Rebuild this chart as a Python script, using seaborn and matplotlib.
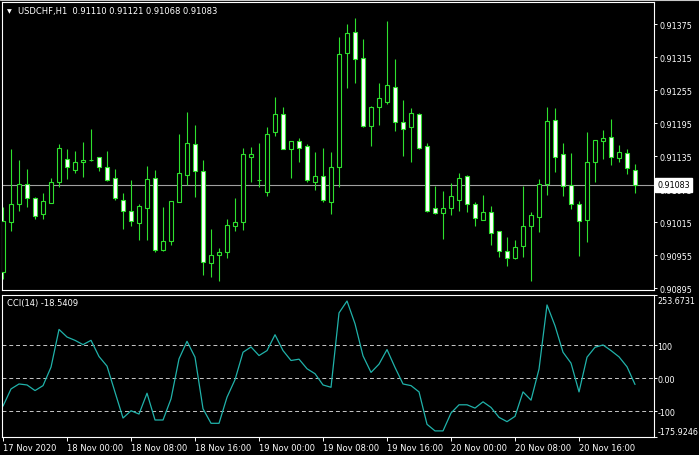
import numpy as np
import pandas as pd
import matplotlib
matplotlib.use('Agg')
import matplotlib.pyplot as plt
import matplotlib.transforms as mtransforms
import seaborn as sns

# USDCHF H1 bars, 17 Nov 2020 16:00 .. 20 Nov 2020 23:00
opens = [0.90924, 0.91016, 0.91047, 0.91085, 0.91058, 0.91029, 0.91050, 0.91088, 0.91129, 0.91110,
         0.91124, 0.91127, 0.91133, 0.91116, 0.91095, 0.91056, 0.91036, 0.91014, 0.91041, 0.91096,
         0.90965, 0.90981, 0.91052, 0.91101, 0.91156, 0.91107, 0.90941, 0.90956, 0.90961, 0.91008,
         0.91016, 0.91134, 0.91091, 0.91070, 0.91178, 0.91211, 0.91147, 0.91162, 0.91153, 0.91088,
         0.91098, 0.91052, 0.91116, 0.91323, 0.91360, 0.91313, 0.91190, 0.91225, 0.91234, 0.91260,
         0.91196, 0.91187, 0.91211, 0.91153, 0.91040, 0.91031, 0.91041, 0.91056, 0.91098, 0.91047,
         0.91019, 0.91033, 0.90998, 0.90963, 0.90949, 0.90972, 0.91008, 0.91025, 0.91085, 0.91200,
         0.91138, 0.91082, 0.91047, 0.91019, 0.91125, 0.91163, 0.91169, 0.91131, 0.91140, 0.91110]
highs = [0.91042, 0.91148, 0.91128, 0.91111, 0.91060, 0.91067, 0.91096, 0.91157, 0.91148, 0.91144,
         0.91160, 0.91184, 0.91134, 0.91144, 0.91111, 0.91067, 0.91091, 0.91047, 0.91117, 0.91110,
         0.91042, 0.91054, 0.91175, 0.91215, 0.91191, 0.91128, 0.91002, 0.90968, 0.91020, 0.91059,
         0.91150, 0.91151, 0.91159, 0.91187, 0.91242, 0.91225, 0.91163, 0.91167, 0.91156, 0.91142,
         0.91150, 0.91142, 0.91351, 0.91375, 0.91386, 0.91348, 0.91226, 0.91268, 0.91380, 0.91311,
         0.91237, 0.91222, 0.91214, 0.91158, 0.91080, 0.91071, 0.91086, 0.91104, 0.91100, 0.91051,
         0.91064, 0.91044, 0.90999, 0.90988, 0.90983, 0.91080, 0.91033, 0.91093, 0.91224, 0.91222,
         0.91159, 0.91140, 0.91053, 0.91178, 0.91165, 0.91182, 0.91202, 0.91155, 0.91148, 0.91121]
lows = [0.90911, 0.90999, 0.91036, 0.91043, 0.91021, 0.91020, 0.91049, 0.91079, 0.91093, 0.91104,
        0.91097, 0.91126, 0.91107, 0.91090, 0.91056, 0.91003, 0.91007, 0.90983, 0.90983, 0.90961,
        0.90963, 0.90974, 0.91051, 0.91082, 0.91061, 0.90919, 0.90916, 0.90907, 0.90949, 0.90999,
        0.91001, 0.91087, 0.91078, 0.91063, 0.91172, 0.91147, 0.91095, 0.91125, 0.91088, 0.91074,
        0.91052, 0.91030, 0.91079, 0.91259, 0.91268, 0.91188, 0.91154, 0.91191, 0.91230, 0.91181,
        0.91136, 0.91125, 0.91148, 0.91034, 0.91030, 0.90985, 0.91028, 0.91035, 0.91034, 0.91008,
        0.91018, 0.90974, 0.90952, 0.90935, 0.90948, 0.90951, 0.90907, 0.90997, 0.91064, 0.91106,
        0.91063, 0.91039, 0.90954, 0.90979, 0.91088, 0.91130, 0.91119, 0.91125, 0.91102, 0.91068]
closes = [0.91017, 0.91047, 0.91085, 0.91058, 0.91026, 0.91053, 0.91087, 0.91149, 0.91116, 0.91125,
          0.91128, 0.91128, 0.91116, 0.91092, 0.91058, 0.91036, 0.91017, 0.91044, 0.91093, 0.90965,
          0.90980, 0.91053, 0.91105, 0.91158, 0.91107, 0.90942, 0.90956, 0.90960, 0.91010, 0.91016,
          0.91138, 0.91138, 0.91091, 0.91175, 0.91211, 0.91148, 0.91162, 0.91150, 0.91092, 0.91098,
          0.91055, 0.91116, 0.91320, 0.91358, 0.91312, 0.91190, 0.91225, 0.91240, 0.91264, 0.91197,
          0.91184, 0.91213, 0.91150, 0.91035, 0.91031, 0.91040, 0.91062, 0.91096, 0.91047, 0.91022,
          0.91033, 0.90996, 0.90963, 0.90949, 0.90969, 0.91007, 0.91027, 0.91085, 0.91198, 0.91134,
          0.91081, 0.91047, 0.91017, 0.91125, 0.91164, 0.91167, 0.91133, 0.91142, 0.91113, 0.91083]
cci = [-84, -32, -17, -20, -37, -22, 34, 148, 125, 115,
       102, 115, 66, 37, -42, -120, -98, -108, -45, -126,
       -126, -62, 59, 112, 64, -92, -136, -136, -57, -4,
       79, 95, 69, 84, 132, 84, 54, 58, 29, 14,
       -20, -27, 198, 234, 165, 68, 18, 43, 87, 33,
       -17, -22, -41, -139, -159, -159, -105, -80, -80, -90,
       -71, -88, -118, -131, -115, -41, -66, 28, 222, 159,
       79, 46, -41, 64, 94, 101, 84, 65, 35, -18.5409]

price_ticks = [0.91375, 0.91315, 0.91255, 0.91195, 0.91135, 0.91075, 0.91015, 0.90955, 0.90895]
cci_levels = [100, 0, -100]
cci_range = [-175.9246, 253.6731]

GREEN = '#2ee02e'
CCI_COLOR = '#20b2aa'

df = pd.DataFrame({'time': pd.date_range('2020-11-17 16:00', periods=len(opens), freq='h'),
                   'open': opens, 'high': highs, 'low': lows, 'close': closes, 'cci': cci})
df['bar'] = np.arange(len(df))
bull = df['close'] >= df['open']

sns.set_style('dark', rc={'axes.facecolor': 'black', 'figure.facecolor': 'black',
                          'axes.edgecolor': 'white', 'text.color': 'white',
                          'xtick.color': 'white', 'ytick.color': 'white', 'axes.grid': False})
plt.rcParams['font.family'] = ['DejaVu Sans']

W, H = 699, 456
def rect(l, t, r, b):
    return [l / W, 1 - b / H, (r - l) / W, (b - t) / H]

fig = plt.figure(figsize=(W / 100, H / 100), dpi=100)
ax = fig.add_axes(rect(2.3, 3.3, 653.5, 291))
ax2 = fig.add_axes(rect(2.3, 295.5, 653.5, 437.5), sharex=ax)

# window frame line at the very top
fig.add_artist(plt.Line2D([0, 1], [1 - 0.6 / H, 1 - 0.6 / H], color='#c8c8c8', lw=0.8))

# candles
ax.vlines(df['bar'], df['low'], df['high'], color=GREEN, lw=0.8, zorder=2)
ax.bar(df['bar'], (df['close'] - df['open']).abs(), bottom=df[['open', 'close']].min(axis=1),
       width=0.5, color=np.where(bull, 'black', 'white'), edgecolor=GREEN, linewidth=0.8, zorder=3)
ax.axhline(df['close'].iloc[-1], color='#a0a0a0', lw=0.8, zorder=1)

ax.set_ylim(0.908915, 0.914145)
ax.set_xlim(-0.09, 81.31)
ax.set_yticks(price_ticks)
ax.set_yticklabels([f'{p:.5f}' for p in price_ticks])
ax.tick_params(axis='y', left=False, labelleft=False, right=True, labelright=True,
               length=2.5, width=0.7, labelsize=5.8, pad=1.5)
ax.tick_params(axis='x', bottom=False, labelbottom=False)

blend = mtransforms.blended_transform_factory(ax.transAxes, ax.transData)
ax.text(1.006, df['close'].iloc[-1], f"{df['close'].iloc[-1]:.5f}", transform=blend,
        ha='left', va='center', color='black', fontsize=5.8, clip_on=False, zorder=10,
        bbox=dict(facecolor='white', edgecolor='white', boxstyle='square,pad=0.3'))

# CCI window
sns.lineplot(x=df['bar'], y=df['cci'], ax=ax2, color=CCI_COLOR, lw=0.9, legend=False)
for lv in cci_levels:
    ax2.axhline(lv, color='#c8c8c8', lw=0.7, ls=(0, (4, 3)), zorder=1)
ax2.set_ylim(*cci_range)
yt = [cci_range[1]] + cci_levels + [cci_range[0]]
ax2.set_yticks(yt)
ax2.set_yticklabels([f'{cci_range[1]:.4f}', '100', '0.00', '-100', f'{cci_range[0]:.4f}'])
ax2.tick_params(axis='y', left=False, labelleft=False, right=True, labelright=True,
                length=2.0, width=0.7, labelsize=5.8, pad=0.8)
labs = ax2.get_yticklabels()
labs[0].set_va('top')
labs[-1].set_va('bottom')
labs[0].set_transform(labs[0].get_transform() + mtransforms.ScaledTranslation(0, -2 / 100, fig.dpi_scale_trans))

tick_bars = df.loc[df['time'].dt.hour % 8 == 0, 'bar']
tick_labels = [t.strftime('%d %b %Y') if i == 0 else t.strftime('%d %b %H:%M')
               for i, t in enumerate(df.loc[tick_bars, 'time'])]
ax2.set_xticks(tick_bars)
ax2.set_xticklabels(tick_labels)
ax2.tick_params(axis='x', bottom=True, length=3, width=0.7, labelsize=6, pad=1.5)
for lbl in ax2.get_xticklabels():
    lbl.set_ha('left')
ax2.set_xlabel('')
ax2.set_ylabel('')
ax.set_xlabel('')
ax.set_ylabel('')

for a in (ax, ax2):
    for s in a.spines.values():
        s.set_color('white')
        s.set_linewidth(0.8)

# header texts
fig.text(9.5 / W, 1 - 11.5 / H, '\u25bc', fontsize=4.5, ha='center', va='center', color='white')
fig.text(18 / W, 1 - 11.7 / H,
         f"USDCHF,H1  {opens[-1]:.5f} {highs[-1]:.5f} {lows[-1]:.5f} {closes[-1]:.5f}",
         fontsize=6, va='center', color='white')
fig.text(7.3 / W, 1 - 304 / H, f"CCI(14) {cci[-1]:.4f}", fontsize=6, va='center', color='white')

fig.savefig('out.png', dpi=100, facecolor='black')
